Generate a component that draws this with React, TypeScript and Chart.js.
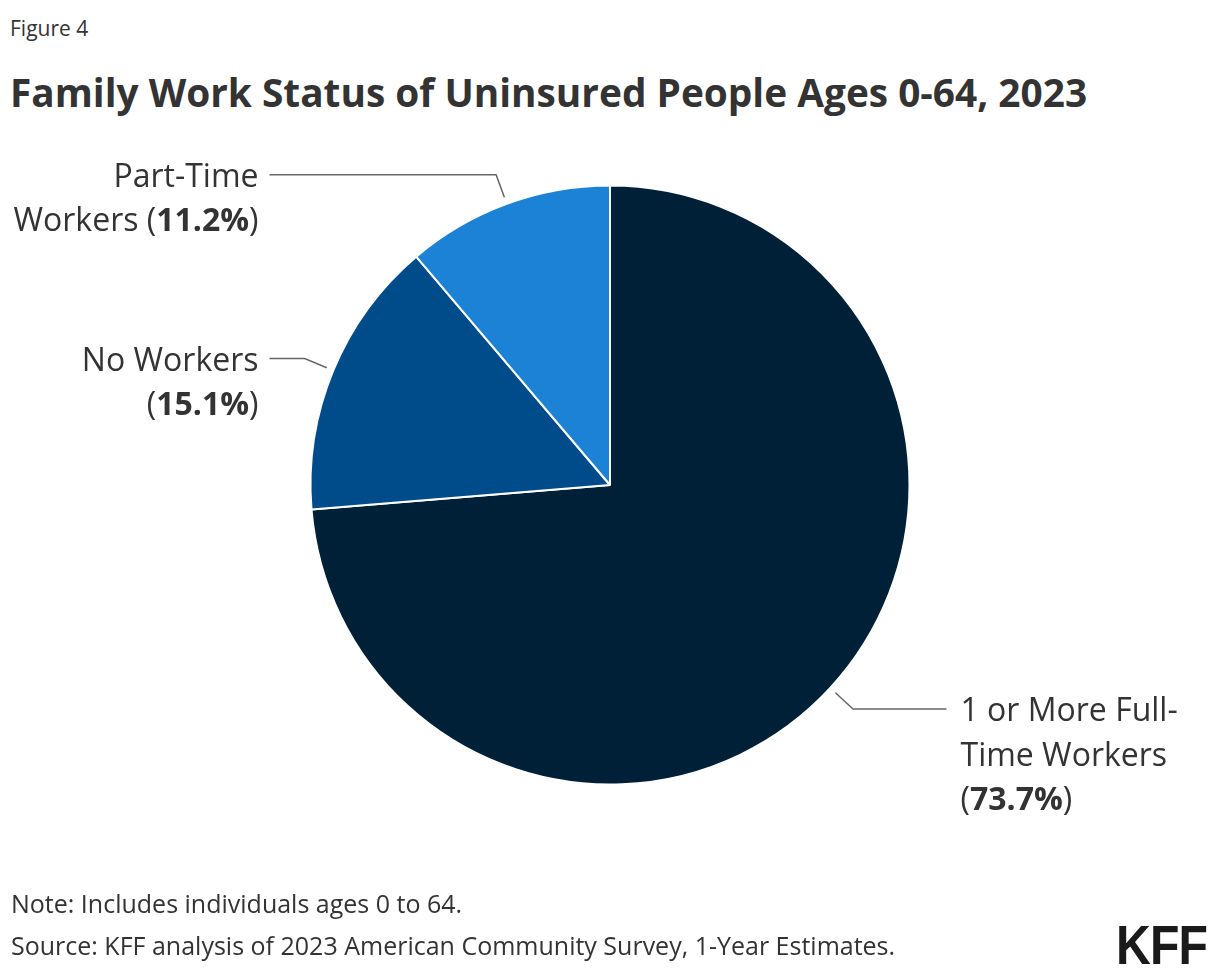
import React, { useEffect, useRef } from "react";
import { Chart, registerables } from "chart.js";
Chart.register(...registerables);

const FIGURE_LABEL = "Figure 4";
const TITLE = "Family Work Status of Uninsured People Ages 0-64, 2023";
const NOTE = "Note: Includes individuals ages 0 to 64.";
const SOURCE = "Source: KFF analysis of 2023 American Community Survey, 1-Year Estimates.";

const categories = ["1 or More Full-Time Workers", "No Workers", "Part-Time Workers"];
const values = [73.7, 15.1, 11.2];
const colors = ["#002038", "#004c8a", "#1c82d6"];
// label text lines; the percentage is appended to the last line
const labelLines = [
  ["1 or More Full-", "Time Workers", ""],
  ["No Workers", ""],
  ["Part-Time", "Workers "],
];

const FONT = "'Open Sans'";

const leaderPlugin = {
  id: "leaders",
  afterDraw(chart: any) {
    const ctx = chart.ctx;
    const meta = chart.getDatasetMeta(0);
    const fs = 32;
    const lh = 44.5;
    meta.data.forEach((arc: any, i: number) => {
      const { x, y, startAngle, endAngle, outerRadius } = arc.getProps(
        ["x", "y", "startAngle", "endAngle", "outerRadius"],
        true
      );
      const mid = (startAngle + endAngle) / 2;
      const c = Math.cos(mid);
      const s = Math.sin(mid);
      const p1 = { x: x + (outerRadius + 7) * c, y: y + (outerRadius + 7) * s };
      const p2 = { x: x + (outerRadius + 31) * c, y: y + (outerRadius + 31) * s };
      const right = c >= 0;
      const endX = right ? x + outerRadius + 37 : x - outerRadius - 41;
      ctx.save();
      ctx.strokeStyle = "#666666";
      ctx.lineWidth = 1.5;
      ctx.beginPath();
      ctx.moveTo(p1.x, p1.y);
      ctx.lineTo(p2.x, p2.y);
      ctx.lineTo(endX, p2.y);
      ctx.stroke();

      const lines = labelLines[i];
      const regular = `400 ${fs}px ${FONT}`;
      const bold = `700 ${fs}px ${FONT}`;
      ctx.fillStyle = "#333333";
      ctx.textBaseline = "middle";
      ctx.textAlign = "left";
      const textX = right ? endX + 14 : endX - 11;
      lines.forEach((ln, j) => {
        const ly = p2.y + 3 + j * lh;
        const isLast = j === lines.length - 1;
        const parts: { t: string; f: string }[] = [{ t: ln, f: regular }];
        if (isLast) {
          parts.push({ t: "(", f: regular });
          parts.push({ t: values[i].toFixed(1) + "%", f: bold });
          parts.push({ t: ")", f: regular });
        }
        let total = 0;
        parts.forEach((p) => {
          ctx.font = p.f;
          total += ctx.measureText(p.t).width;
        });
        let cx = right ? textX : textX - total;
        parts.forEach((p) => {
          ctx.font = p.f;
          ctx.fillText(p.t, cx, ly);
          cx += ctx.measureText(p.t).width;
        });
      });
      ctx.restore();
    });
  },
};

export default function App() {
  const ref = useRef<HTMLCanvasElement>(null);
  useEffect(() => {
    if (!ref.current) return;
    const chart = new Chart(ref.current, {
      type: "pie",
      data: {
        labels: categories,
        datasets: [
          {
            data: values,
            backgroundColor: colors,
            borderColor: "#ffffff",
            borderWidth: 2,
            radius: 299.5,
          },
        ],
      },
      options: {
        animation: false,
        responsive: false,
        events: [],
        layout: { padding: { left: 308, right: 308, top: 184, bottom: 188 } },
        plugins: { legend: { display: false }, tooltip: { enabled: false } },
      },
      plugins: [leaderPlugin],
    });
    return () => chart.destroy();
  }, []);

  const base: React.CSSProperties = {
    position: "absolute",
    margin: 0,
    fontFamily: FONT,
    color: "#333333",
    whiteSpace: "nowrap",
  };

  return (
    <div
      style={{
        position: "absolute",
        left: 0,
        top: 0,
        width: 1220,
        height: 974,
        overflow: "hidden",
        background: "#ffffff",
      }}
    >
      <div style={{ ...base, left: 10, top: 14, fontSize: 21, lineHeight: "28px" }}>{FIGURE_LABEL}</div>
      <div style={{ ...base, left: 10, top: 70, fontSize: 38.8, lineHeight: "44px", fontWeight: 700 }}>{TITLE}</div>
      <canvas ref={ref} width={1220} height={974} style={{ position: "absolute", left: 0, top: 0 }} />
      <div style={{ ...base, left: 11, top: 888, fontSize: 25, lineHeight: "30px" }}>{NOTE}</div>
      <div style={{ ...base, left: 11, top: 930, fontSize: 25, lineHeight: "30px" }}>{SOURCE}</div>
      <div
        style={{
          ...base,
          left: 1116,
          top: 913,
          fontSize: 56,
          lineHeight: "64px",
          fontWeight: 700,
          fontFamily: "'Liberation Sans Narrow', 'Liberation Sans'",
          color: "#1a1a1a",
          letterSpacing: -1,
          transform: "scaleX(0.86)",
          transformOrigin: "left top",
        }}
      >
        KFF
      </div>
    </div>
  );
}
